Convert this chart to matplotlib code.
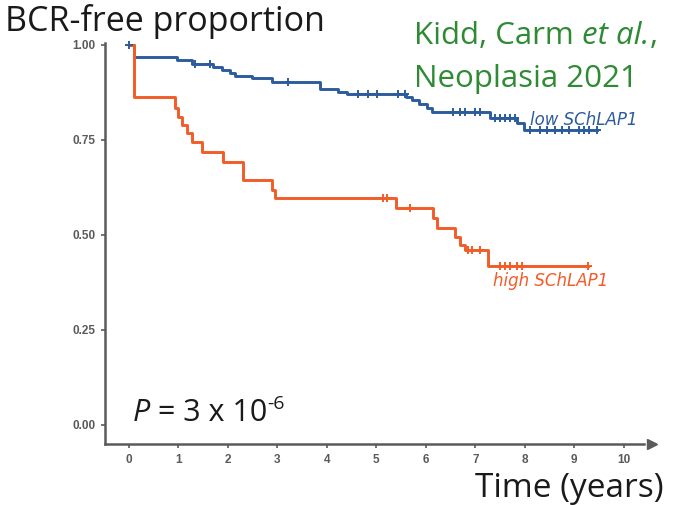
import numpy as np
import matplotlib
matplotlib.use("Agg")
import matplotlib.pyplot as plt

# ---- data ----
blue_times = [0, 0.10, 0.97, 1.27, 1.70, 1.88, 2.05, 2.15, 2.48, 2.90, 3.86, 4.22, 4.40,
              5.60, 5.72, 5.87, 6.03, 6.12, 7.30, 7.85, 7.98, 9.45]
blue_surv = [1.0, 0.968, 0.960, 0.950, 0.942, 0.934, 0.926, 0.918, 0.913, 0.902, 0.884, 0.876, 0.871,
             0.863, 0.855, 0.845, 0.834, 0.824, 0.808, 0.795, 0.776, 0.776]
blue_censor = [0.0, 1.33, 1.64, 3.22, 4.63, 4.83, 5.01, 5.43, 5.58, 6.55, 6.69, 6.79, 6.99, 7.09,
               7.40, 7.50, 7.60, 7.70, 7.80, 8.10, 8.30, 8.45, 8.60, 8.75, 8.90, 9.10, 9.20, 9.30, 9.45]

red_times = [0, 0.10, 0.93, 1.00, 1.08, 1.17, 1.27, 1.47, 1.90, 2.30, 2.90, 2.95, 5.40, 6.14,
             6.22, 6.59, 6.69, 6.80, 7.25, 9.27]
red_surv = [1.0, 0.863, 0.834, 0.811, 0.790, 0.768, 0.745, 0.718, 0.692, 0.645, 0.618, 0.597, 0.571,
            0.545, 0.518, 0.495, 0.474, 0.460, 0.418, 0.418]
red_censor = [5.13, 5.21, 5.68, 6.85, 6.93, 7.09, 7.49, 7.60, 7.70, 7.84, 7.94, 9.27]

x_ticks = [0, 1, 2, 3, 4, 5, 6, 7, 8, 9, 10]
y_ticks = [0.00, 0.25, 0.50, 0.75, 1.00]
y_ticklabels = ["0.00", "0.25", "0.50", "0.75", "1.00"]

BLUE = "#2d5c9c"
RED = "#f25c27"
GREEN = "#2e8b34"
GREY = "#5a5a5a"
INK = "#1a1a1a"
FONT = "Open Sans"

W, H = 678, 505
fig = plt.figure(figsize=(W / 100, H / 100), dpi=100)
ax = fig.add_axes([105 / W, (H - 444) / H, (652 - 105) / W, (444 - 43) / H])

ax.set_xlim(-0.485, 10.57)
ax.set_ylim(-0.05, 1.005)


def surv_at(times, surv, t):
    idx = np.searchsorted(times, t, side="right") - 1
    return np.asarray(surv)[idx]


ax.step(blue_times, blue_surv, where="post", color=BLUE, lw=2.1, clip_on=False)
ax.step(red_times, red_surv, where="post", color=RED, lw=2.1, clip_on=False)
ax.plot(blue_censor, surv_at(blue_times, blue_surv, blue_censor), ls="none", marker="+",
        ms=6, mew=1.4, color=BLUE, clip_on=False)
ax.plot(red_censor, surv_at(red_times, red_surv, red_censor), ls="none", marker="+",
        ms=6, mew=1.4, color=RED, clip_on=False)

ax.text(8.1, 0.803, "low SChLAP1", color=BLUE, fontsize=12, style="italic",
        family="DejaVu Sans", va="center", ha="left")
ax.text(7.35, 0.38, "high SChLAP1", color=RED, fontsize=12, style="italic",
        family="DejaVu Sans", va="center", ha="left")

for s in ["top", "right"]:
    ax.spines[s].set_visible(False)
for s in ["left", "bottom"]:
    ax.spines[s].set_color(GREY)
    ax.spines[s].set_linewidth(1.8)
ax.spines["bottom"].set_bounds(-0.485, 10.4)
ax.plot([10.57], [-0.05], marker=">", ms=7, color=GREY, clip_on=False)

ax.set_xticks(x_ticks)
ax.set_yticks(y_ticks)
ax.set_yticklabels(y_ticklabels)
ax.tick_params(colors=GREY, labelcolor=GREY, length=3, width=1.2, labelsize=8.5, pad=4)
for lab in ax.get_xticklabels() + ax.get_yticklabels():
    lab.set_family("Liberation Sans")
    lab.set_fontweight("bold")

renderer = fig.canvas.get_renderer()


def put_runs(x_px, base_px, runs):
    """Place consecutive text runs on one baseline, starting at pixel x."""
    x = x_px
    for txt, kw in runs:
        dy = kw.pop("dy", 0)
        t = fig.text(x / W, 1 - (base_px - dy) / H, txt, va="baseline", ha="left",
                     family=FONT, **kw)
        x = t.get_window_extent(renderer).x1
    return x


put_runs(5, 31, [("BCR-free proportion", dict(fontsize=24.5, color=INK))])
put_runs(414, 44, [("Kidd, Carm ", dict(fontsize=22.5, color=GREEN)),
                   ("et al.", dict(fontsize=22.5, color=GREEN, style="italic")),
                   (",", dict(fontsize=22.5, color=GREEN))])
put_runs(414, 87, [("Neoplasia 2021", dict(fontsize=22.5, color=GREEN))])
put_runs(475, 497, [("Time (years)", dict(fontsize=24, color=INK))])
put_runs(133, 421, [("P", dict(fontsize=22, color=INK, style="italic")),
                    (" = 3 x 10", dict(fontsize=22, color=INK)),
                    ("-6", dict(fontsize=14, color=INK, dy=12))])

fig.savefig("out.png", dpi=100)
